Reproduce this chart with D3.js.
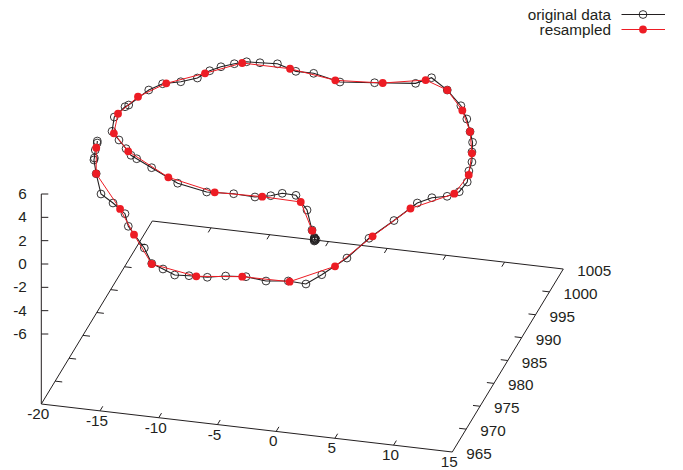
<!DOCTYPE html>
<html>
<head>
<meta charset="utf-8">
<title>original data vs resampled</title>
<script src="https://cdnjs.cloudflare.com/ajax/libs/d3/7.8.5/d3.min.js"></script>
<style>
    html, body { margin: 0; padding: 0; background: #fff; }
    svg { display: block; }
    text { font-family: "Liberation Sans", Arial, sans-serif; font-size: 15.3px; fill: #231f20; }
</style>
</head>
<body>
<svg id="chart" width="683" height="470"></svg>
<script>
const width = 683;
const height = 470;
const svg = d3.select("#chart");

// tick labels
const xTicks = [-20, -15, -10, -5, 0, 5, 10, 15];
const yTicks = [965, 970, 975, 980, 985, 990, 995, 1000, 1005];
const zTicks = [-6, -4, -2, 0, 2, 4, 6];
const seriesNames = ["original data", "resampled"];

// original data (z is a rough estimate, it can't be read exactly)
const origX = [0.60, 0.52, 0.66, 0.50, 0.63, 0.55, 0.47, 0.44, -0.11, -1.47, -3.06, -4.25, -5.05, -6.24, -8.09, -10.32, -13.05,
    -15.59, -17.21, -17.55, -18.26, -18.96, -19.65, -19.88, -19.52, -19.31, -18.44, -17.64,
    -16.01, -14.87, -14.24, -13.54, -12.62, -11.74, -10.63, -9.19, -7.36, -5.85, -3.34, -0.55, 2.74,
    4.02, 5.58, 7.14, 7.97, 8.84, 9.27, 9.69, 9.89, 10.08, 10.48, 10.03, 9.29, 8.15,
    6.96, 5.95, 4.82, 4.02, 2.82, 2.01, 0.46, -1.31, -3.11, -4.76, -6.16, -7.69, -8.86, -10.08, -11.24,
    -12.58, -14.90, -15.77, -17.24, -18.63, -19.71, -19.99, -19.77, -19.80, -19.70, -19.79];
const origY = [976.20, 976.45, 976.55, 976.70, 976.32, 976.62, 976.82, 976.92, 978.39, 982.35, 985.09, 985.17, 984.41, 983.77, 983.93, 983.64, 984.74,
    986.10, 987.57, 986.95, 988.18, 988.59, 989.01, 990.79, 993.14, 993.58, 997.12, 998.73,
    998.38, 999.54, 1001.32, 1002.40, 1003.34, 1004.03, 1004.15, 1004.35, 1003.25, 1003.27, 1002.12, 1002.80, 1003.65,
    1003.99, 1003.04, 1001.35, 999.98, 997.47, 996.55, 994.55, 993.70, 991.79, 989.51, 988.53, 987.30, 986.65,
    986.41, 982.28, 978.06, 973.50, 969.50, 967.23, 967.42, 966.88, 967.29, 966.94, 966.25, 966.13, 965.93, 966.88, 967.73,
    970.72, 974.77, 977.26, 979.16, 980.71, 983.55, 983.92, 983.14, 983.60, 983.88, 984.29];
const origZ = [0, 0, 0, 0, 0, 0, 0, 0, 0, 0, 0, 0, 0, 0, 0, 0, 0,
    0.5, 0.5, 1, 1, 1.5, 2, 2.5, 2.5, 2.5, 2.5, 2.5,
    3, 3, 3, 3, 3, 3, 3, 3, 3, 3, 3, 3, 3,
    3.5, 3, 2.5, 2, 2, 1.5, 1.5, 1, 1, 1, 0.5, 0.5, 0.5,
    0, 0, 0, 0, 0, 0, 0, 0, 0, 0, 0, 0, 0, 0, 0,
    0, 0, 0, 0, 0, 0.5, 1.5, 2, 2.5, 3, 3];

// resampled data
const resX = [-0.06, -2.36, -5.68, -9.67, -14.08, -17.96, -19.41, -19.74, -18.97, -17.37, -14.49,
    -12.03, -7.95, -3.79, 0.11, 3.38, 5.58, 7.48, 8.84, 9.75, 10.26, 9.73,
    6.68, 5.01, 3.47, 0.60, -3.41, -7.08, -11.22, -14.04, -16.39, -19.71, -19.83];
const resY = [978.26, 983.84, 984.01, 983.77, 985.73, 987.69, 988.65, 991.55, 995.49, 998.90, 1000.68,
    1003.67, 1003.64, 1002.36, 1002.94, 1004.57, 1003.04, 1000.44, 997.47, 994.29, 990.98, 988.00,
    985.13, 978.55, 971.53, 967.31, 967.20, 966.18, 967.63, 973.19, 978.11, 983.55, 984.09];
const resZ = [0, 0, 0, 0, 0, 1, 2, 2.5, 2.5, 2.5, 3,
    3, 3, 3, 3, 3, 3, 2.5, 2, 1.5, 1, 0.5,
    0, 0, 0, 0, 0, 0, 0, 0, 0, 0.5, 2.5];

// view projection, each data axis moves the screen point along its own direction
const xRight = d3.scaleLinear().domain([-20, 15]).range([0, 411]);
const xDown = d3.scaleLinear().domain([-20, 15]).range([0, 48]);
const yRight = d3.scaleLinear().domain([965, 1005]).range([0, 111]);
const yUp = d3.scaleLinear().domain([965, 1005]).range([0, 183]);
const zUp = d3.scaleLinear().domain([-12, 6]).range([0, 210]);

const originX = 41.3;
const originY = 404;

function project(x, y, z) {
    return [
        originX + xRight(x) + yRight(y),
        originY + xDown(x) - yUp(y) - zUp(z)
    ];
}

const toPoints = (xs, ys, zs) => xs.map((x, i) => project(x, ys[i], zs[i]));
const origPoints = toPoints(origX, origY, origZ);
const resPoints = toPoints(resX, resY, resZ);

const axisColor = "#231f20";
const red = "#ed1c24";
const line = d3.line();

const xMin = xTicks[0], xMax = xTicks[xTicks.length - 1];
const yMin = yTicks[0], yMax = yTicks[yTicks.length - 1];
const zBase = -12, zTop = zTicks[zTicks.length - 1];

// Base frame and vertical axis
const axes = svg.append("g")
    .attr("fill", "none")
    .attr("stroke", axisColor)
    .attr("stroke-width", 1);

axes.append("path").attr("d", line([
    project(xMin, yMin, zBase),
    project(xMax, yMin, zBase),
    project(xMax, yMax, zBase),
    project(xMin, yMax, zBase),
    project(xMin, yMin, zBase)
]));
axes.append("path").attr("d", line([
    project(xMin, yMin, zBase),
    project(xMin, yMin, zTop)
]));

// x tics, on the front and the back edge
xTicks.slice(1, -1).forEach(t => {
    axes.append("path").attr("d", line([project(t, yMin, zBase), project(t, yMin + 1, zBase)]));
    axes.append("path").attr("d", line([project(t, yMax, zBase), project(t, yMax - 1, zBase)]));
});

// y tics, on the left and the right edge
yTicks.slice(1, -1).forEach(t => {
    axes.append("path").attr("d", line([project(xMin, t, zBase), project(xMin + 0.6, t, zBase)]));
    axes.append("path").attr("d", line([project(xMax, t, zBase), project(xMax - 0.6, t, zBase)]));
});

// z tics
zTicks.forEach(t => {
    const [px, py] = project(xMin, yMin, t);
    axes.append("path").attr("d", line([[px, py], [px + 7, py]]));
});

// Tick labels
svg.append("g").selectAll("text")
    .data(xTicks)
    .join("text")
    .attr("text-anchor", "middle")
    .attr("x", d => project(d, yMin, zBase)[0] - 3)
    .attr("y", d => project(d, yMin, zBase)[1] + 15)
    .text(d => d);

svg.append("g").selectAll("text")
    .data(yTicks)
    .join("text")
    .attr("x", d => project(xMax, d, zBase)[0] + 14)
    .attr("y", d => project(xMax, d, zBase)[1] + 7)
    .text(d => d);

svg.append("g").selectAll("text")
    .data(zTicks)
    .join("text")
    .attr("text-anchor", "end")
    .attr("x", originX - 14.5)
    .attr("y", d => project(xMin, yMin, d)[1] + 5)
    .text(d => d);

// original data
svg.append("path")
    .attr("d", line(origPoints))
    .attr("fill", "none")
    .attr("stroke", axisColor)
    .attr("stroke-width", 1.1);

svg.append("g").selectAll("circle")
    .data(origPoints)
    .join("circle")
    .attr("cx", d => d[0])
    .attr("cy", d => d[1])
    .attr("r", 3.9)
    .attr("fill", "none")
    .attr("stroke", axisColor)
    .attr("stroke-width", 0.9);

// resampled
svg.append("path")
    .attr("d", line(resPoints))
    .attr("fill", "none")
    .attr("stroke", red)
    .attr("stroke-width", 1);

svg.append("g").selectAll("circle")
    .data(resPoints)
    .join("circle")
    .attr("cx", d => d[0])
    .attr("cy", d => d[1])
    .attr("r", 3.9)
    .attr("fill", red);

// Legend
const legend = svg.append("g");
const legendY = d3.scaleLinear().domain([0, 1]).range([14.5, 29.5]);

seriesNames.forEach((name, i) => {
    const y = legendY(i);
    const color = i === 0 ? axisColor : red;
    legend.append("text")
        .attr("text-anchor", "end")
        .attr("x", 611)
        .attr("y", y + 5)
        .text(name);
    legend.append("line")
        .attr("x1", 621.5)
        .attr("x2", 665)
        .attr("y1", y)
        .attr("y2", y)
        .attr("stroke", color)
        .attr("stroke-width", 1);
    legend.append("circle")
        .attr("cx", 643)
        .attr("cy", y)
        .attr("r", 3.9)
        .attr("fill", i === 0 ? "none" : red)
        .attr("stroke", i === 0 ? axisColor : "none")
        .attr("stroke-width", 0.9);
});
</script>
</body>
</html>
